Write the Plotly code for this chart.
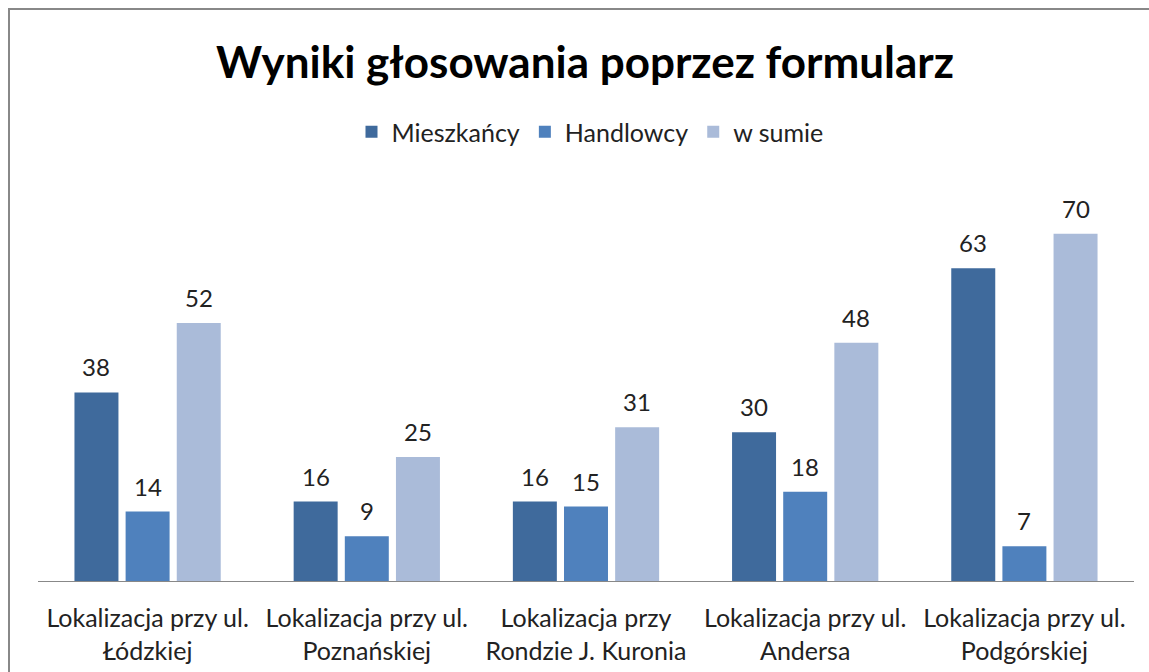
import plotly.graph_objects as go

categories = ["Lokalizacja przy ul.<br>Łódzkiej", "Lokalizacja przy ul.<br>Poznańskiej",
              "Lokalizacja przy<br>Rondzie J. Kuronia", "Lokalizacja przy ul.<br>Andersa",
              "Lokalizacja przy ul.<br>Podgórskiej"]
mieszkancy = [38, 16, 16, 30, 63]
handlowcy = [14, 9, 15, 18, 7]
w_sumie = [52, 25, 31, 48, 70]

series = [("Mieszkańcy", mieszkancy, "#3F6A9C"),
          ("Handlowcy", handlowcy, "#4F81BD"),
          ("w sumie", w_sumie, "#AABBD9")]

W, H = 1149, 672
# target plot area in pixels: x 38..1134, y 184..581
L, T = 38, 184
R = W - 1134
B = H - 581
BARGAP = 0.3

fig = go.Figure()
for name, vals, col in series:
    fig.add_trace(go.Bar(x=categories, y=vals, name=name, marker_color=col,
                         marker_line_width=0, hoverinfo="skip"))

pw = W - L - R
ph = H - T - B
def px2x(p):
    return (p - L) / pw
def py2y(p):
    return (H - B - p) / ph

slot = pw / len(categories) * (1 - BARGAP) / len(series)
annotations = []
for i, (name, vals, col) in enumerate(series):
    for cat, v in zip(categories, vals):
        annotations.append(dict(x=cat, y=v, xref="x", yref="y", text=str(v),
                                showarrow=False, yanchor="bottom", yshift=9,
                                xshift=(i - 1) * slot,
                                font=dict(size=24, color="#222")))

fig.update_layout(
    width=W, height=H,
    margin=dict(l=L, r=R, t=T, b=B, autoexpand=False),
    paper_bgcolor="white", plot_bgcolor="white",
    font=dict(family="Lato, Open Sans, sans-serif", size=24, color="#222"),
    title=dict(text="<b>Wyniki głosowania poprzez formularz</b>", x=px2x(585), xref="paper",
               xanchor="center", y=1 - 63 / H, yanchor="middle",
               font=dict(size=44, color="black")),
    barmode="group", bargap=BARGAP, bargroupgap=0.14,
    showlegend=True,
    legend=dict(orientation="h", x=px2x(590), xanchor="center", y=py2y(132), yanchor="middle",
                font=dict(size=25), itemwidth=30, traceorder="normal"),
    xaxis=dict(showline=True, linecolor="#888", linewidth=1, ticks="", showgrid=False,
               tickfont=dict(size=25), ticklabelstandoff=15, automargin=False),
    yaxis=dict(range=[0, 80], visible=False, showgrid=False, automargin=False),
    annotations=annotations,
    shapes=[dict(type="line", xref="paper", yref="paper",
                 x0=px2x(8), x1=px2x(1149), y0=py2y(9), y1=py2y(9),
                 line=dict(color="#888", width=2), layer="below"),
            dict(type="line", xref="paper", yref="paper",
                 x0=px2x(9), x1=px2x(9), y0=py2y(8), y1=py2y(672),
                 line=dict(color="#888", width=2), layer="below")],
)

fig.write_html("out.html",
               config={"displayModeBar": False},
               post_script="document.body.style.margin='0';"
                           "document.documentElement.style.overflow='hidden';"
                           "document.body.style.overflow='hidden';")
